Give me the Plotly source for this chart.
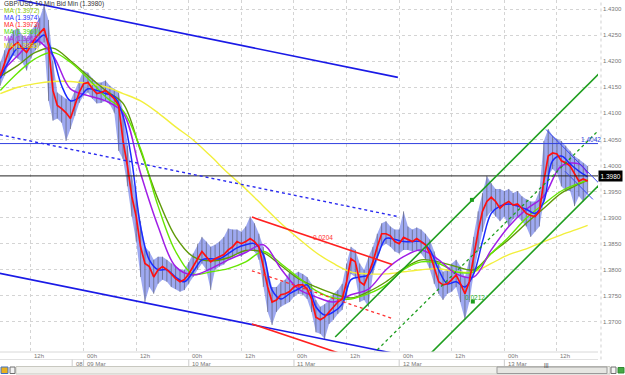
import plotly.graph_objects as go

# ---------------- data ----------------
# x = trading hours since Fri 06 Mar 12:00 (weekend removed)
hours = list(range(-7, 128))              # hourly grid: price bars and fast MA
hours2 = list(range(-7, 128, 2))          # 2-hour grid
hours4 = list(range(-7, 126, 4)) + [127]  # 4-hour grid: slow MAs

bar_high = [
    1.4198, 1.4221, 1.4244, 1.4259, 1.4263, 1.4250, 1.4244, 1.4259, 1.4269, 1.4283,
    1.4308, 1.4279, 1.4201, 1.4140, 1.4134, 1.4128, 1.4124, 1.4144, 1.4163, 1.4182,
    1.4178, 1.4167, 1.4159, 1.4159, 1.4163, 1.4153, 1.4147, 1.4140, 1.4105, 1.4038,
    1.3980, 1.3941, 1.3893, 1.3844, 1.3835, 1.3819, 1.3825, 1.3825, 1.3819, 1.3812,
    1.3806, 1.3800, 1.3800, 1.3815, 1.3831, 1.3850, 1.3863, 1.3854, 1.3844, 1.3848,
    1.3854, 1.3863, 1.3879, 1.3877, 1.3877, 1.3873, 1.3883, 1.3902, 1.3889, 1.3869,
    1.3844, 1.3800, 1.3767, 1.3767, 1.3777, 1.3781, 1.3796, 1.3792, 1.3796, 1.3792,
    1.3786, 1.3773, 1.3742, 1.3729, 1.3734, 1.3742, 1.3754, 1.3761, 1.3773, 1.3812,
    1.3844, 1.3838, 1.3812, 1.3800, 1.3825, 1.3844, 1.3869, 1.3889, 1.3893, 1.3883,
    1.3877, 1.3877, 1.3912, 1.3883, 1.3877, 1.3881, 1.3877, 1.3869, 1.3858, 1.3835,
    1.3812, 1.3796, 1.3800, 1.3812, 1.3819, 1.3806, 1.3786, 1.3819, 1.3863, 1.3912,
    1.3947, 1.3980, 1.3966, 1.3955, 1.3955, 1.3951, 1.3955, 1.3947, 1.3951, 1.3941,
    1.3935, 1.3931, 1.3931, 1.3951, 1.4047, 1.4070, 1.4057, 1.4051, 1.4047, 1.4038,
    1.4028, 1.4018, 1.4012, 1.4005, 1.3999,
]
bar_low = [
    1.4153, 1.4172, 1.4198, 1.4211, 1.4205, 1.4198, 1.4182, 1.4205, 1.4221, 1.4230,
    1.4236, 1.4124, 1.4086, 1.4090, 1.4082, 1.4047, 1.4070, 1.4095, 1.4120, 1.4134,
    1.4140, 1.4128, 1.4119, 1.4120, 1.4124, 1.4117, 1.4101, 1.4028, 1.4012, 1.3960,
    1.3902, 1.3854, 1.3786, 1.3738, 1.3767, 1.3754, 1.3773, 1.3781, 1.3777, 1.3767,
    1.3763, 1.3758, 1.3761, 1.3773, 1.3786, 1.3800, 1.3812, 1.3800, 1.3761, 1.3800,
    1.3806, 1.3810, 1.3819, 1.3825, 1.3831, 1.3825, 1.3835, 1.3838, 1.3835, 1.3819,
    1.3767, 1.3719, 1.3694, 1.3719, 1.3729, 1.3734, 1.3738, 1.3748, 1.3754, 1.3752,
    1.3744, 1.3719, 1.3680, 1.3677, 1.3667, 1.3696, 1.3704, 1.3715, 1.3723, 1.3748,
    1.3792, 1.3786, 1.3738, 1.3742, 1.3729, 1.3792, 1.3819, 1.3844, 1.3850, 1.3844,
    1.3835, 1.3831, 1.3838, 1.3838, 1.3835, 1.3838, 1.3831, 1.3819, 1.3800, 1.3773,
    1.3754, 1.3742, 1.3754, 1.3758, 1.3767, 1.3738, 1.3704, 1.3738, 1.3792, 1.3835,
    1.3873, 1.3902, 1.3912, 1.3902, 1.3893, 1.3902, 1.3883, 1.3897, 1.3902, 1.3893,
    1.3883, 1.3863, 1.3873, 1.3883, 1.3931, 1.3980, 1.3993, 1.3985, 1.3960, 1.3951,
    1.3951, 1.3922, 1.3941, 1.3931, 1.3947,
]
ma_red = [
    1.4172, 1.4198, 1.4221, 1.4230, 1.4236, 1.4225, 1.4217, 1.4230, 1.4244, 1.4254,
    1.4263, 1.4230, 1.4144, 1.4115, 1.4109, 1.4101, 1.4090, 1.4115, 1.4140, 1.4157,
    1.4159, 1.4147, 1.4138, 1.4140, 1.4144, 1.4136, 1.4128, 1.4115, 1.4047, 1.3999,
    1.3941, 1.3902, 1.3844, 1.3812, 1.3806, 1.3786, 1.3800, 1.3806, 1.3800, 1.3792,
    1.3783, 1.3777, 1.3781, 1.3792, 1.3806, 1.3819, 1.3835, 1.3825, 1.3815, 1.3821,
    1.3825, 1.3829, 1.3838, 1.3844, 1.3854, 1.3850, 1.3854, 1.3860, 1.3854, 1.3844,
    1.3806, 1.3767, 1.3738, 1.3742, 1.3752, 1.3754, 1.3758, 1.3767, 1.3771, 1.3771,
    1.3763, 1.3744, 1.3709, 1.3704, 1.3709, 1.3719, 1.3729, 1.3738, 1.3744, 1.3777,
    1.3821, 1.3815, 1.3777, 1.3771, 1.3792, 1.3815, 1.3844, 1.3869, 1.3869, 1.3865,
    1.3854, 1.3850, 1.3862, 1.3858, 1.3854, 1.3860, 1.3854, 1.3848, 1.3831, 1.3806,
    1.3777, 1.3771, 1.3773, 1.3781, 1.3790, 1.3773, 1.3754, 1.3777, 1.3825, 1.3873,
    1.3912, 1.3931, 1.3939, 1.3931, 1.3918, 1.3926, 1.3931, 1.3924, 1.3926, 1.3918,
    1.3908, 1.3904, 1.3902, 1.3912, 1.3970, 1.4018, 1.4024, 1.4022, 1.4009, 1.4005,
    1.3999, 1.3985, 1.3970, 1.3974, 1.3970,
]
ma_blue = [
    1.4167, 1.4201, 1.4225, 1.4225, 1.4236, 1.4250, 1.4211, 1.4153, 1.4124, 1.4130,
    1.4147, 1.4144, 1.4138, 1.4132, 1.4095, 1.4009, 1.3883, 1.3819, 1.3800, 1.3800,
    1.3786, 1.3777, 1.3796, 1.3819, 1.3821, 1.3821, 1.3831, 1.3842, 1.3848, 1.3850,
    1.3829, 1.3761, 1.3744, 1.3754, 1.3763, 1.3771, 1.3729, 1.3713, 1.3719, 1.3734,
    1.3781, 1.3786, 1.3790, 1.3825, 1.3860, 1.3858, 1.3854, 1.3854, 1.3854, 1.3838,
    1.3800, 1.3773, 1.3777, 1.3767, 1.3792, 1.3854, 1.3908, 1.3922, 1.3926, 1.3922,
    1.3916, 1.3908, 1.3931, 1.4009, 1.4018, 1.4003, 1.3989, 1.3978,
]
ma_purple = [
    1.4177, 1.4211, 1.4240, 1.4211, 1.4147, 1.4134, 1.4124, 1.4101, 1.3985, 1.3883,
    1.3806, 1.3790, 1.3802, 1.3819, 1.3833, 1.3848, 1.3802, 1.3763, 1.3748, 1.3738,
    1.3752, 1.3763, 1.3800, 1.3825, 1.3838, 1.3819, 1.3792, 1.3786, 1.3838, 1.3883,
    1.3916, 1.3941, 1.3999, 1.4003, 1.3985,
]
ma_lime = [
    1.4144, 1.4178, 1.4205, 1.4217, 1.4198, 1.4167, 1.4132, 1.4105, 1.4032, 1.3922,
    1.3835, 1.3792, 1.3796, 1.3802, 1.3815, 1.3835, 1.3812, 1.3785, 1.3760, 1.3746,
    1.3744, 1.3754, 1.3771, 1.3800, 1.3815, 1.3812, 1.3796, 1.3796, 1.3831, 1.3863,
    1.3899, 1.3926, 1.3951, 1.3966, 1.3972,
]
ma_olive = [
    1.4171, 1.4192, 1.4217, 1.4225, 1.4201, 1.4172, 1.4144, 1.4119, 1.4028, 1.3935,
    1.3863, 1.3825, 1.3817, 1.3823, 1.3837, 1.3833, 1.3808, 1.3783, 1.3767, 1.3754,
    1.3746, 1.3758, 1.3777, 1.3802, 1.3819, 1.3815, 1.3806, 1.3800, 1.3831, 1.3858,
    1.3889, 1.3918, 1.3947, 1.3964, 1.3972,
]
ma_yellow = [
    1.4138, 1.4150, 1.4157, 1.4161, 1.4161, 1.4157, 1.4151, 1.4138, 1.4124, 1.4101,
    1.4074, 1.4049, 1.4018, 1.3985, 1.3955, 1.3922, 1.3889, 1.3860, 1.3833, 1.3812,
    1.3796, 1.3792, 1.3792, 1.3796, 1.3800, 1.3802, 1.3796, 1.3796, 1.3812, 1.3829,
    1.3840, 1.3854, 1.3867, 1.3879, 1.3885,
]

# drawn trend lines: [start hour, end hour], [start price, end price]
blue_top_t, blue_top_p = [-7.1, 83.7], [1.4325, 1.4169]
blue_mid_t, blue_mid_p = [-7.1, 83.7], [1.4059, 1.3902]
blue_bot_t, blue_bot_p = [-7.1, 83.7], [1.3793, 1.3638]
red_top_t, red_top_p = [50.4, 82.4], [1.3901, 1.3810]
red_mid_t, red_mid_p = [50.4, 82.6], [1.3798, 1.3706]
red_bot_t, red_bot_p = [50.4, 71.0], [1.3696, 1.3638]
green_top_t, green_top_p = [69.4, 129.8], [1.3671, 1.4178]
green_mid_t, green_mid_p = [78.0, 129.8], [1.3638, 1.4070]
green_bot_t, green_bot_p = [91.0, 129.8], [1.3638, 1.3964]
green_anchor_t, green_anchor_p = [100.6, 100.8], [1.3934, 1.3739]
tri_a_t, tri_a_p = [117.5, 129.8], [1.4069, 1.3964]
tri_b_t, tri_b_p = [121.8, 128.2], [1.3989, 1.3935]
level_blue = 1.4042
level_last = 1.3980
red_channel_label = "0.0204"
green_channel_label = "0.0212"

price_ticks = [1.3700, 1.3750, 1.3800, 1.3850, 1.3900, 1.3950, 1.4000,
               1.4050, 1.4100, 1.4150, 1.4200, 1.4250, 1.4300]
x_ticks = [0, 12, 24, 36, 48, 60, 72, 84, 96, 108, 120]
x_tick_text = ["12h", "00h", "12h", "00h", "12h", "00h", "12h", "00h", "12h", "00h", "12h"]
day_ticks = [9.4, 12, 36, 60, 84, 108]
day_text = ["08", "09 Mar", "10 Mar", "11 Mar", "12 Mar", "13 Mar"]

legend_rows = [
    ("GBP/USD 10 Min Bid Min (1.3980)", "#333333"),
    ("MA (1.3972)", "#8ccc00"),
    ("MA (1.3974)", "#1a2cff"),
    ("MA (1.3973)", "#ff1a1a"),
    ("MA (1.3960)", "#44dd00"),
    ("MA (1.3967)", "#b020e0"),
    ("MA (1.3885)", "#e6e000"),
]

X_RANGE = [-7.07, 129.36]
Y_RANGE = [1.36422, 1.43174]
FONT = "Liberation Sans, Arial, sans-serif"

# ---------------- figure ----------------
fig = go.Figure()

# price bars: light high-low band plus hourly bar strokes
fig.add_trace(go.Scatter(x=hours, y=bar_low, mode="lines", line=dict(width=0),
                         hoverinfo="skip", showlegend=False))
fig.add_trace(go.Scatter(x=hours, y=bar_high, mode="lines", line=dict(width=0),
                         fill="tonexty", fillcolor="rgba(120,136,235,0.72)",
                         hoverinfo="skip", showlegend=False))
seg_x, seg_y = [], []
for t, lo, hi in zip(hours, bar_low, bar_high):
    seg_x += [t, t, None]
    seg_y += [lo, hi, None]
fig.add_trace(go.Scatter(x=seg_x, y=seg_y, mode="lines",
                         line=dict(color="rgba(85,85,95,0.6)", width=1),
                         hoverinfo="skip", showlegend=False))

def line(x, y, color, width, dash="solid", shape="linear"):
    fig.add_trace(go.Scatter(x=x, y=y, mode="lines",
                             line=dict(color=color, width=width, dash=dash, shape=shape),
                             hoverinfo="skip", showlegend=False))

line(hours4, ma_yellow, "#f2ef3c", 1.4, shape="spline")
line(hours4, ma_olive, "#5f9a08", 1.4, shape="spline")
line(hours4, ma_lime, "#66e600", 1.4, shape="spline")
line(hours4, ma_purple, "#a01ee6", 1.5, shape="spline")
line(hours2, ma_blue, "#1a2cff", 1.5, shape="spline")
line(hours, ma_red, "#ff1010", 1.7)

# horizontal levels
line(X_RANGE, [level_blue, level_blue], "#3040e0", 1)
line(X_RANGE, [level_last, level_last], "#222222", 1)

# channels
line(blue_top_t, blue_top_p, "#1a1ae6", 1.6)
line(blue_mid_t, blue_mid_p, "#2a2af0", 1.4, dash="dot")
line(blue_bot_t, blue_bot_p, "#1a1ae6", 1.6)
line(red_top_t, red_top_p, "#ff2020", 1.6)
line(red_mid_t, red_mid_p, "#ff3030", 1.3, dash="dot")
line(red_bot_t, red_bot_p, "#ff2020", 1.6)
line(green_top_t, green_top_p, "#1e9e1e", 1.6)
line(green_mid_t, green_mid_p, "#1e9e1e", 1.3, dash="dot")
line(green_bot_t, green_bot_p, "#1e9e1e", 1.6)
fig.add_trace(go.Scatter(x=green_anchor_t, y=green_anchor_p, mode="markers",
                         marker=dict(color="#1e9e1e", size=4, symbol="square"),
                         hoverinfo="skip", showlegend=False))
line(tri_a_t, tri_a_p, "#3a48f0", 1)
line(tri_b_t, tri_b_p, "#3a48f0", 1)

annotations = []
# legend text (top-left)
for i, (txt, col) in enumerate(legend_rows):
    annotations.append(dict(text=txt, xref="paper", yref="paper", x=0.004,
                            y=1 - (4 + 7 * i) / 352, xanchor="left", yanchor="middle",
                            showarrow=False, font=dict(size=6.5, color=col, family=FONT)))
# channel size labels
annotations.append(dict(text=red_channel_label, x=66.6, y=1.3862, showarrow=False,
                        font=dict(size=6.5, color="#ff3030", family=FONT)))
annotations.append(dict(text=green_channel_label, x=101.2, y=1.3747, showarrow=False,
                        font=dict(size=6.5, color="#22aa22", family=FONT)))
# level labels
annotations.append(dict(text="1.4042", x=127.7, y=level_blue, yanchor="bottom",
                        showarrow=False, yshift=-1,
                        font=dict(size=6.5, color="#3040e0", family=FONT)))
annotations.append(dict(text="1.3980", xref="paper", x=1.0, y=level_last, xanchor="left",
                        yanchor="middle", showarrow=False, bgcolor="#000000",
                        borderpad=1.5, font=dict(size=6.5, color="#ffffff", family=FONT)))
# x axis labels (two rows)
for t, txt in zip(x_ticks, x_tick_text):
    annotations.append(dict(text=txt, x=t, xref="x", yref="paper", y=-4 / 352,
                            xanchor="left", yanchor="middle", xshift=1.5, showarrow=False,
                            font=dict(size=6, color="#777777", family=FONT)))
for t, txt in zip(day_ticks, day_text):
    annotations.append(dict(text=txt, x=t, xref="x", yref="paper", y=-11.5 / 352,
                            xanchor="left", yanchor="middle", xshift=1.5, showarrow=False,
                            font=dict(size=6, color="#777777", family=FONT)))

shapes = []
# label row separators
shapes.append(dict(type="line", xref="paper", yref="paper", x0=0, x1=1, y0=0, y1=0,
                   line=dict(color="#d8d8d8", width=1)))
shapes.append(dict(type="line", xref="paper", yref="paper", x0=0, x1=1,
                   y0=-7.5 / 352, y1=-7.5 / 352, line=dict(color="#e2e2e2", width=1)))
for t in day_ticks:
    shapes.append(dict(type="line", xref="x", yref="paper", x0=t, x1=t,
                       y0=-14 / 352, y1=-7.5 / 352, line=dict(color="#cccccc", width=1)))
# right border of plot
shapes.append(dict(type="line", xref="paper", yref="paper", x0=1.005, x1=1.005, y0=-7.5 / 352,
                   y1=1, line=dict(color="#d0d0d0", width=1, dash="dot")))
# scrollbar
shapes.append(dict(type="rect", xref="paper", yref="paper", x0=16 / 598, x1=610 / 598,
                   y0=-22 / 352, y1=-14.5 / 352, fillcolor="#f0f0ec",
                   line=dict(color="#c8c8c0", width=1)))
shapes.append(dict(type="rect", xref="paper", yref="paper", x0=497 / 598, x1=607 / 598,
                   y0=-21.5 / 352, y1=-15 / 352, fillcolor="#e6e6e2",
                   line=dict(color="#9a9a9a", width=1)))
shapes.append(dict(type="rect", xref="paper", yref="paper", x0=10 / 598, x1=15 / 598,
                   y0=-21.5 / 352, y1=-15 / 352, fillcolor="#f4f4f4",
                   line=dict(color="#707070", width=1)))
shapes.append(dict(type="rect", xref="paper", yref="paper", x0=611 / 598, x1=616 / 598,
                   y0=-21.5 / 352, y1=-15 / 352, fillcolor="#f4f4f4",
                   line=dict(color="#707070", width=1)))
shapes.append(dict(type="rect", xref="paper", yref="paper", x0=1 / 598, x1=8 / 598,
                   y0=-21.5 / 352, y1=-15 / 352, fillcolor="#e8b020",
                   line=dict(color="#4070c0", width=1)))
shapes.append(dict(type="rect", xref="paper", yref="paper", x0=618 / 598, x1=624 / 598,
                   y0=-21 / 352, y1=-15.5 / 352, fillcolor="#44aa44",
                   line=dict(color="#338833", width=1)))
annotations.append(dict(text="|||", xref="paper", yref="paper", x=551 / 598, y=-18.2 / 352,
                        showarrow=False, font=dict(size=6, color="#333333", family=FONT)))

fig.update_layout(
    width=625, height=375,
    margin=dict(l=0, r=27, t=0, b=23),
    paper_bgcolor="#ffffff", plot_bgcolor="#ffffff",
    showlegend=False,
    xaxis=dict(range=X_RANGE, tickvals=x_ticks, showticklabels=False, ticks="",
               showgrid=True, gridcolor="#d4d4d4", griddash="dot", gridwidth=1,
               zeroline=False, showline=False, fixedrange=True),
    yaxis=dict(range=Y_RANGE, side="right", tickvals=price_ticks, tickformat=".4f",
               showgrid=True, gridcolor="#d4d4d4", griddash="dot", gridwidth=1,
               ticks="", ticklabelstandoff=4, zeroline=False, showline=False,
               tickfont=dict(size=6, color="#777777", family=FONT), fixedrange=True),
    annotations=annotations,
    shapes=shapes,
)

fig.write_html("out.html")
